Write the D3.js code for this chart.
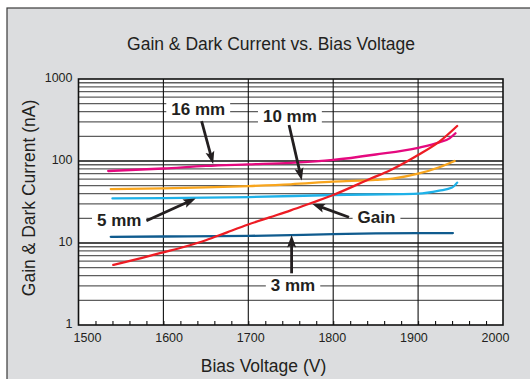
<!DOCTYPE html>
<html>
<head>
<meta charset="utf-8">
<script src="https://cdn.jsdelivr.net/npm/d3@7"></script>
<style>
  body { margin: 0; background: #fff; }
  svg { display: block; }
  text { font-family: "Liberation Sans", Arial, Helvetica, sans-serif; fill: #231f20; }
</style>
</head>
<body>
<svg id="chart" width="530" height="379"></svg>
<script>
// tick values
const voltageTicks = [1500, 1600, 1700, 1800, 1900, 2000];
const currentTicks = [1, 10, 100, 1000];

// series (bias voltage V, current nA)
const mm16Volts  = [1535, 1600, 1650, 1700, 1750, 1800, 1850, 1900, 1925, 1937, 1944];
const mm16Values = [75.5, 81, 87, 91, 95, 103, 120, 145, 169, 189, 218];

const mm10Volts  = [1538, 1600, 1650, 1700, 1750, 1800, 1850, 1870, 1900, 1925, 1943];
const mm10Values = [45.5, 46.4, 47.7, 49.5, 52, 56, 59, 61, 70, 84, 100];

const mm5Volts  = [1540, 1600, 1700, 1800, 1900, 1925, 1940, 1946];
const mm5Values = [35, 35.3, 36.3, 38.5, 40, 43.5, 47.4, 54.5];

const mm3Volts  = [1538, 1600, 1700, 1800, 1850, 1900, 1941];
const mm3Values = [11.9, 12, 12.2, 12.8, 13.1, 13.2, 13.2];

const gainVolts  = [1541, 1575, 1600, 1625, 1650, 1675, 1700, 1725, 1750, 1775, 1800, 1845, 1866, 1900, 1925, 1946];
const gainValues = [5.4, 6.6, 7.7, 9, 10.8, 13.5, 16.8, 20.5, 25, 31, 38.5, 61.5, 76, 118, 172, 267];

const seriesNames  = ['16 mm', '10 mm', '5 mm', '3 mm', 'Gain'];
const seriesColors = ['#e5097f', '#f8a51d', '#1eb1e8', '#0f5b8e', '#ed1c24'];

// annotations: label centre and arrow tail/tip, all in data units
const labels = [
  { text: '16 mm', at: [1641, 437], tail: [1645, 307], tip: [1658.6, 92] },
  { text: '10 mm', at: [1749, 359], tail: [1748, 275], tip: [1763, 58] },
  { text: '5 mm',  at: [1548, 19.1], tail: [1580, 18.7], tip: [1638, 34.9] },
  { text: 'Gain',  at: [1851, 21],  tail: [1818.6, 20.6], tip: [1775.5, 30] },
  { text: '3 mm',  at: [1752.7, 3.07], tail: [1751, 4.27], tip: [1751, 12.5] }
];

const svg = d3.select('#chart');

// grey panel with frame
svg.append('rect')
  .attr('x', 7).attr('y', 8)
  .attr('width', 540).attr('height', 400)
  .attr('fill', '#dcdddf')
  .attr('stroke', '#3a3a3a')
  .attr('stroke-width', 1.2);

const plotL = 78.5, plotR = 503, plotT = 79, plotB = 325;

const x = d3.scaleLinear().domain([1500, 2000]).range([plotL, plotR]);
const y = d3.scaleLog().domain([1, 1000]).range([plotB, plotT]);
// tick labels in the picture sit a little inside the tick positions
const xLab = d3.scaleLinear().domain([1500, 2000]).range([87, 495]);

svg.append('rect')
  .attr('x', plotL).attr('y', plotT)
  .attr('width', plotR - plotL).attr('height', plotB - plotT)
  .attr('fill', '#fff');

// horizontal grid: every 1..9 of each decade
const minorValues = [];
for (let d = 1; d < 1000; d *= 10) {
  for (let k = 2; k <= 9; k++) minorValues.push(k * d);
}
const grid = svg.append('g');
grid.selectAll('line.h')
  .data(minorValues)
  .enter().append('line')
  .attr('class', 'h')
  .attr('x1', plotL).attr('x2', plotR)
  .attr('y1', d => y(d)).attr('y2', d => y(d))
  .attr('stroke', '#5e5e5e')
  .attr('stroke-width', 1.3);

grid.selectAll('line.d')
  .data(currentTicks.slice(1, 3))
  .enter().append('line')
  .attr('class', 'd')
  .attr('x1', plotL).attr('x2', plotR)
  .attr('y1', d => y(d)).attr('y2', d => y(d))
  .attr('stroke', '#111')
  .attr('stroke-width', 1.4);

grid.selectAll('line.v')
  .data(voltageTicks.slice(1, -1))
  .enter().append('line')
  .attr('class', 'v')
  .attr('x1', d => x(d)).attr('x2', d => x(d))
  .attr('y1', plotT).attr('y2', plotB)
  .attr('stroke', '#111')
  .attr('stroke-width', 1.1);

// minor ticks on the bottom axis, every 20 V, pointing inwards
const minorVolts = d3.range(1520, 2000, 20);
svg.append('g')
  .attr('transform', `translate(0, ${plotB})`)
  .call(d3.axisBottom(x).tickValues(minorVolts).tickSize(-4).tickFormat(''))
  .call(g => g.select('.domain').remove())
  .call(g => g.selectAll('line').attr('stroke', '#111').attr('stroke-width', 1.1));

// plot border
svg.append('rect')
  .attr('x', plotL).attr('y', plotT)
  .attr('width', plotR - plotL).attr('height', plotB - plotT)
  .attr('fill', 'none')
  .attr('stroke', '#111')
  .attr('stroke-width', 1.6);

// tick labels
svg.append('g')
  .attr('transform', `translate(0, ${plotB})`)
  .call(d3.axisBottom(xLab).tickValues(voltageTicks).tickSize(0).tickPadding(8).tickFormat(d3.format('d')))
  .call(g => g.select('.domain').remove())
  .call(g => g.selectAll('text')
    .attr('font-size', 12.5)
    .attr('font-family', '"Liberation Sans", Arial, sans-serif')
    .attr('fill', '#231f20'));

svg.append('g')
  .attr('transform', `translate(${plotL - 6}, 0)`)
  .call(d3.axisLeft(y).tickValues(currentTicks).tickSize(0).tickPadding(0).tickFormat(d3.format('d')))
  .call(g => g.select('.domain').remove())
  .call(g => g.selectAll('text')
    .attr('dy', '0.18em')
    .attr('font-size', 12.5)
    .attr('font-family', '"Liberation Sans", Arial, sans-serif')
    .attr('fill', '#231f20'));

// titles
svg.append('text')
  .attr('x', 271).attr('y', 49.5)
  .attr('text-anchor', 'middle')
  .attr('font-size', 17.5)
  .text('Gain & Dark Current vs. Bias Voltage');

svg.append('text')
  .attr('x', 263.5).attr('y', 372)
  .attr('text-anchor', 'middle')
  .attr('font-size', 17.5)
  .text('Bias Voltage (V)');

svg.append('text')
  .attr('transform', 'translate(35, 198) rotate(-90)')
  .attr('text-anchor', 'middle')
  .attr('font-size', 17.5)
  .text('Gain & Dark Current (nA)');

// annotation label boxes (white, interrupting the grid)
const labelG = svg.append('g');
labels.forEach(l => {
  const t = labelG.append('text')
    .attr('x', x(l.at[0])).attr('y', y(l.at[1]))
    .attr('dy', '0.36em')
    .attr('text-anchor', 'middle')
    .attr('font-size', 17)
    .attr('font-weight', 'bold')
    .text(l.text);
  const b = t.node().getBBox();
  labelG.insert('rect', 'text')
    .attr('x', b.x - 5).attr('y', b.y + 1)
    .attr('width', b.width + 10).attr('height', b.height - 2)
    .attr('fill', '#fff');
});

// series lines
const allVolts  = [mm16Volts, mm10Volts, mm5Volts, mm3Volts, gainVolts];
const allValues = [mm16Values, mm10Values, mm5Values, mm3Values, gainValues];
const line = d3.line()
  .x(d => x(d[0]))
  .y(d => y(d[1]))
  .curve(d3.curveMonotoneX);

seriesNames.forEach((name, i) => {
  const pts = allVolts[i].map((v, j) => [v, allValues[i][j]]);
  svg.append('path')
    .datum(pts)
    .attr('fill', 'none')
    .attr('stroke', seriesColors[i])
    .attr('stroke-width', 2.3)
    .attr('stroke-linecap', 'round')
    .attr('d', line);
});

// arrows
const arrowG = svg.append('g');
labels.forEach(l => {
  const x0 = x(l.tail[0]), y0 = y(l.tail[1]);
  const x1 = x(l.tip[0]), y1 = y(l.tip[1]);
  const ang = Math.atan2(y1 - y0, x1 - x0);
  const head = 10, half = 4.5;
  const bx = x1 - head * Math.cos(ang), by = y1 - head * Math.sin(ang);
  arrowG.append('line')
    .attr('x1', x0).attr('y1', y0)
    .attr('x2', bx + 2 * Math.cos(ang)).attr('y2', by + 2 * Math.sin(ang))
    .attr('stroke', '#231f20')
    .attr('stroke-width', 2.8);
  const px = -Math.sin(ang), py = Math.cos(ang);
  const back = 2.5;
  arrowG.append('path')
    .attr('d', `M${x1},${y1}` +
      `L${bx + half * px - back * Math.cos(ang)},${by + half * py - back * Math.sin(ang)}` +
      `L${bx},${by}` +
      `L${bx - half * px - back * Math.cos(ang)},${by - half * py - back * Math.sin(ang)}Z`)
    .attr('fill', '#231f20');
});
</script>
</body>
</html>
